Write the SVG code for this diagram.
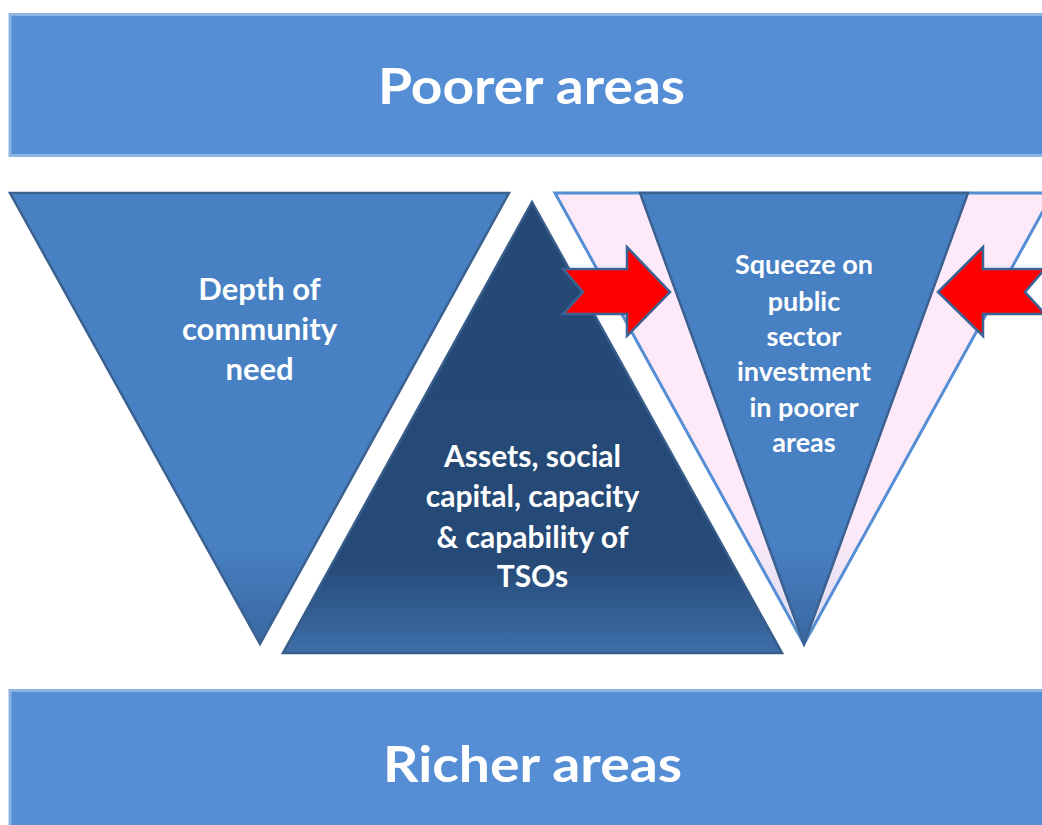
<svg xmlns="http://www.w3.org/2000/svg" width="1042" height="825" viewBox="0 0 1042 825">
  <style>
    .band { fill: #558ed5; stroke: #8db3e2; stroke-width: 3; }
    .tri-blue { fill: url(#gBlue); stroke: #3b6190; stroke-width: 2.5; stroke-linejoin: miter; }
    .tri-dark { fill: url(#gDark); stroke: #385d8a; stroke-width: 2.5; }
    .tri-pink { fill: url(#gPink); stroke: #558ed5; stroke-width: 3; }
    .squeeze { fill: #ff0000; stroke: #3c6396; stroke-width: 2.5; stroke-linejoin: miter; }
    .lbl { fill: #ffffff; font-family: Lato, "Open Sans", "Liberation Sans", sans-serif; font-weight: bold; text-anchor: middle; }
    .big { font-size: 49px; }
    .mid { font-size: 31px; }
    .assets { font-size: 30px; }
    .small { font-size: 27px; }
  </style>
  <defs>
    <linearGradient id="gBlue" gradientUnits="userSpaceOnUse" x1="0" y1="193" x2="0" y2="644">
      <stop offset="0" stop-color="#4780c3"/>
      <stop offset="0.78" stop-color="#4780c3"/>
      <stop offset="1" stop-color="#3a67a1"/>
    </linearGradient>
    <linearGradient id="gDark" gradientUnits="userSpaceOnUse" x1="0" y1="202" x2="0" y2="653">
      <stop offset="0" stop-color="#254975"/>
      <stop offset="0.8" stop-color="#264a77"/>
      <stop offset="1" stop-color="#3e6ea9"/>
    </linearGradient>
    <linearGradient id="gPink" gradientUnits="userSpaceOnUse" x1="0" y1="193" x2="0" y2="644">
      <stop offset="0" stop-color="#fde9f8"/>
      <stop offset="0.75" stop-color="#fde9f8"/>
      <stop offset="1" stop-color="#d6dcef"/>
    </linearGradient>
  </defs>

  <rect width="1042" height="825" fill="#ffffff"/>

  <!-- top band -->
  <g id="poorer">
    <rect class="band" x="10" y="14.5" width="1045" height="141"/>
    <text class="lbl big" x="531.5" y="104" textLength="307" lengthAdjust="spacingAndGlyphs">Poorer areas</text>
  </g>

  <!-- bottom band -->
  <g id="richer">
    <rect class="band" x="10" y="690.5" width="1045" height="145"/>
    <text class="lbl big" x="532.5" y="782" textLength="299" lengthAdjust="spacingAndGlyphs">Richer areas</text>
  </g>

  <!-- community need -->
  <g id="need">
    <polygon class="tri-blue" points="10,193 509,193 260,644"/>
    <text class="lbl mid" x="259.5" y="300">Depth of</text>
    <text class="lbl mid" x="259.5" y="340">community</text>
    <text class="lbl mid" x="259.5" y="380">need</text>
  </g>

  <!-- TSO assets -->
  <g id="assets">
    <polygon class="tri-dark" points="532,202 782,653 283,653"/>
    <text class="lbl assets" x="532.5" y="467">Assets, social</text>
    <text class="lbl assets" x="532.5" y="507">capital, capacity</text>
    <text class="lbl assets" x="532.5" y="548">&amp; capability of</text>
    <text class="lbl assets" x="532.5" y="587">TSOs</text>
  </g>

  <!-- public sector squeeze -->
  <g id="squeeze">
    <polygon class="tri-pink" points="555,193 1053,193 804,644"/>
    <polygon class="tri-blue" points="640,193 968,193 804,644"/>
    <text class="lbl small" x="804" y="274">Squeeze on</text>
    <text class="lbl small" x="804" y="311">public</text>
    <text class="lbl small" x="804" y="346">sector</text>
    <text class="lbl small" x="804" y="381">investment</text>
    <text class="lbl small" x="804" y="417">in poorer</text>
    <text class="lbl small" x="804" y="452">areas</text>
  </g>

  <!-- block arrows pressing in -->
  <g id="connectors">
    <polygon class="squeeze" points="563,269 627,269 627,247 670,292 627,336 627,314 563,314 583,292"/>
    <polygon class="squeeze" points="1045,269 983,269 983,247 938,292 983,336 983,314 1045,314 1025,292"/>
  </g>
</svg>
